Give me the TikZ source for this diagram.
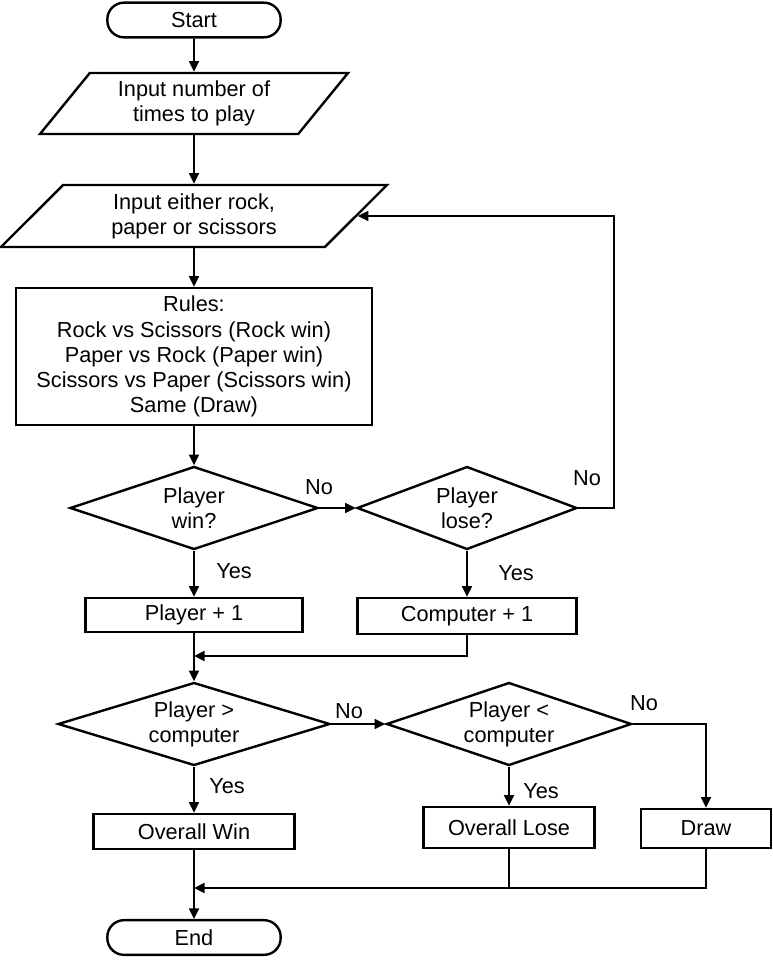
\documentclass[tikz,border=0pt]{standalone}
\usepackage{fontspec}
\setmainfont{Liberation Sans}
\usetikzlibrary{shapes.geometric,arrows.meta}

\tikzset{
  txt/.style={font=\fontsize{16.3}{18.8}\selectfont, align=center},
  base/.style={txt, draw, line width=1.8pt, inner sep=2pt},
  term/.style={base, rectangle, rounded corners=12.5pt, minimum width=130pt, minimum height=26pt},
  io/.style={base, trapezium, trapezium stretches body},
  proc/.style={base, rectangle},
  decide/.style={base, diamond, aspect=3, inner sep=0pt, minimum height=62.25pt},
  conn/.style={line width=1.2pt, -{Triangle[length=8pt,width=7.5pt]}},
  line/.style={line width=1.2pt},
  lbl/.style={txt, inner sep=0pt}
}

\begin{document}
\begin{tikzpicture}[x=0.75pt,y=0.75pt,yscale=-1,xscale=1]
\useasboundingbox (0,0) rectangle (772,963);

% Terminal, input and process nodes
\node[term] (start) at (194,20) {Start};
\node[io, trapezium left angle=45.5, trapezium right angle=134.5,
      minimum width=231pt, minimum height=45.75pt] (times) at (194,103.5) {Input number of\\times to play};
\node[io, trapezium left angle=39.2, trapezium right angle=140.8,
      minimum width=289.5pt, minimum height=46.5pt] (choice) at (194,216) {Input either rock,\\paper or scissors};
\node[proc, minimum width=267pt, minimum height=102.75pt] (rules) at (194,356.5)
  {Rules:\\Rock vs Scissors (Rock win)\\Paper vs Rock (Paper win)\\Scissors vs Paper (Scissors win)\\Same (Draw)};

% Round decisions
\node[decide, minimum width=186pt] (win) at (194,508) {Player\\win?};
\node[decide, minimum width=165pt] (lose) at (467,508) {Player\\lose?};
\node[proc, minimum width=162.75pt, minimum height=25.5pt] (pone) at (194,615) {Player + 1};
\node[proc, minimum width=164.25pt, minimum height=27pt] (cone) at (467,616) {Computer + 1};
\coordinate (mergeA) at (194,656);

% Overall decisions
\node[decide, minimum width=204pt] (more) at (194,724) {Player >\\computer};
\node[decide, minimum width=183.75pt] (less) at (509,724) {Player <\\computer};
\node[proc, minimum width=150.75pt, minimum height=26.25pt] (owin) at (194,831.5) {Overall Win};
\node[proc, minimum width=128.25pt, minimum height=30.75pt] (olose) at (509,827.5) {Overall Lose};
\node[proc, minimum width=97.5pt, minimum height=29.25pt] (odraw) at (706,828.5) {Draw};
\coordinate (mergeB) at (194,888);
\node[term] (end) at (194,937.5) {End};

% Connectors
\draw[conn] (start) -- (times);
\draw[conn] (times) -- (choice);
\draw[conn] (choice) -- (rules);
\draw[conn] (rules) -- (win);
\draw[conn] (win) -- (lose);
\draw[conn] (lose.east) -- ++(36,0) |- (choice.east);
\draw[conn] (win) -- (pone);
\draw[conn] (lose) -- (cone);
\draw[conn] (cone.south) |- (mergeA);
\draw[conn] (pone) -- (more);
\draw[conn] (more) -- (less);
\draw[conn] (more) -- (owin);
\draw[conn] (less) -- (olose);
\draw[conn] (less.east) -| (odraw.north);
\draw[conn] (owin) -- (end);
\draw[conn] (olose.south) |- (mergeB);
\draw[line] (odraw.south) |- (olose.south |- mergeB);

% Text Node
\node[lbl] (noA) at (319,487) {No};
\node[lbl] (noB) at (587,478) {No};
\node[lbl] (yesA) at (234,571) {Yes};
\node[lbl] (yesB) at (516,573) {Yes};
\node[lbl] (noC) at (349,711) {No};
\node[lbl] (yesC) at (227,786) {Yes};
\node[lbl] (noD) at (644,703) {No};
\node[lbl] (yesD) at (541,791) {Yes};

\end{tikzpicture}
\end{document}
